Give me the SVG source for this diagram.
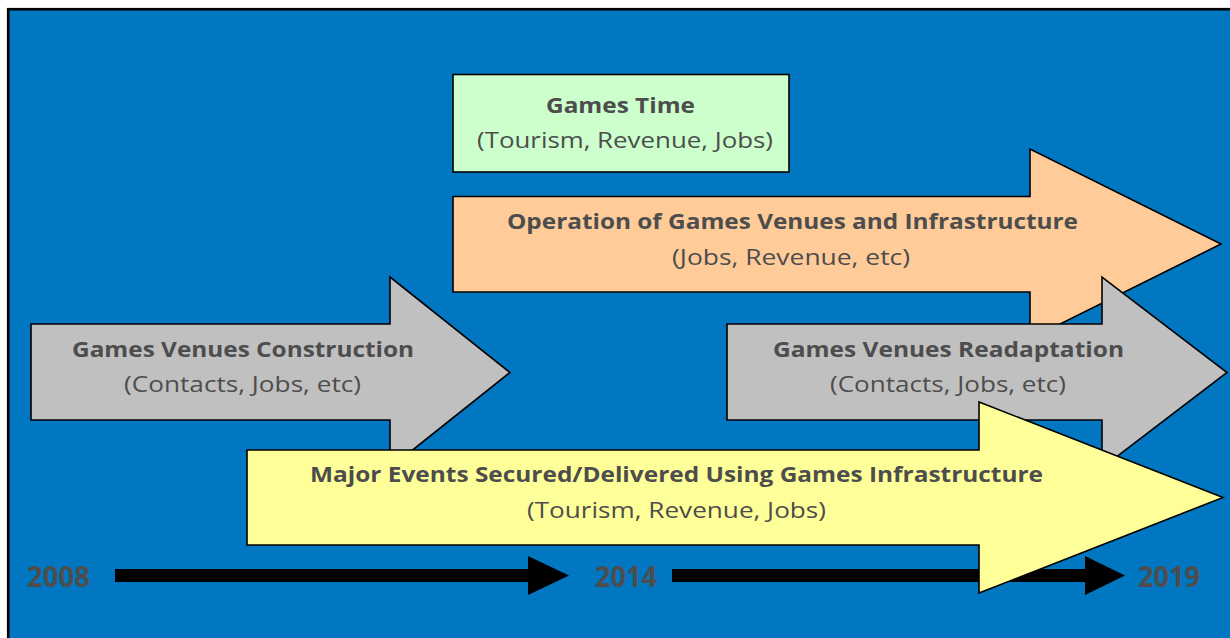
<svg xmlns="http://www.w3.org/2000/svg" width="1230" height="638" viewBox="0 0 1230 638">
<style>
.shape{stroke:#000;stroke-width:1.6;stroke-linejoin:miter}
.b{font-family:"Open Sans","Liberation Sans",sans-serif;font-weight:bold;font-size:22px;fill:#4D4D4D;text-anchor:middle}
.r{font-family:"Open Sans","Liberation Sans",sans-serif;font-size:22px;fill:#4D4D4D;text-anchor:middle}
.yr{font-family:"Open Sans","Liberation Sans",sans-serif;font-weight:bold;font-size:28px;fill:#4D4D4D}
</style>
<rect x="0" y="0" width="1230" height="638" fill="#fff"/>
<rect id="frame" x="8.2" y="9.2" width="1240" height="650" fill="#0077C0" stroke="#000" stroke-width="2.6"/>

<g id="connectors">
  <polygon points="115,569 528,569 528,556 569,575.5 528,595 528,582 115,582" fill="#000"/>
  <polygon points="672,569 1085,569 1085,556 1125,575.5 1085,595 1085,582 672,582" fill="#000"/>
</g>

<g id="year-2008"><text class="yr" x="27" y="587" textLength="63" lengthAdjust="spacingAndGlyphs">2008</text></g>
<g id="year-2014"><text class="yr" x="595" y="587" textLength="62" lengthAdjust="spacingAndGlyphs">2014</text></g>
<g id="year-2019"><text class="yr" x="1138" y="587" textLength="62" lengthAdjust="spacingAndGlyphs">2019</text></g>

<g id="games-time">
  <rect class="shape" x="453" y="74.5" width="336" height="97.5" fill="#CCFFCC"/>
  <text class="b" x="620.5" y="113" textLength="149" lengthAdjust="spacingAndGlyphs">Games Time</text>
  <text class="r" x="625" y="148" textLength="296" lengthAdjust="spacingAndGlyphs">(Tourism, Revenue, Jobs)</text>
</g>

<g id="operation">
  <polygon class="shape" points="453,196.5 1030,196.5 1030,149 1221,244 1030,339 1030,292 453,292" fill="#FFCC99"/>
  <text class="b" x="792.5" y="229" textLength="571" lengthAdjust="spacingAndGlyphs">Operation of Games Venues and Infrastructure</text>
  <text class="r" x="791" y="265" textLength="238" lengthAdjust="spacingAndGlyphs">(Jobs, Revenue, etc)</text>
</g>

<g id="construction">
  <polygon class="shape" points="31,324 390,324 390,277 510,372.5 390,468 390,420 31,420" fill="#C0C0C0"/>
  <text class="b" x="243" y="357" textLength="342" lengthAdjust="spacingAndGlyphs">Games Venues Construction</text>
  <text class="r" x="242.5" y="392" textLength="237" lengthAdjust="spacingAndGlyphs">(Contacts, Jobs, etc)</text>
</g>

<g id="readaptation">
  <polygon class="shape" points="727,324 1102,324 1102,277 1227,372.5 1102,468 1102,420 727,420" fill="#C0C0C0"/>
  <text class="b" x="948.5" y="357" textLength="351" lengthAdjust="spacingAndGlyphs">Games Venues Readaptation</text>
  <text class="r" x="948" y="392" textLength="236" lengthAdjust="spacingAndGlyphs">(Contacts, Jobs, etc)</text>
</g>

<g id="major-events">
  <polygon class="shape" points="247,450 979,450 979,402 1223,497.5 979,593 979,545 247,545" fill="#FFFF99"/>
  <text class="b" x="676.5" y="482" textLength="733" lengthAdjust="spacingAndGlyphs">Major Events Secured/Delivered Using Games Infrastructure</text>
  <text class="r" x="676.5" y="518" textLength="299" lengthAdjust="spacingAndGlyphs">(Tourism, Revenue, Jobs)</text>
</g>
</svg>
